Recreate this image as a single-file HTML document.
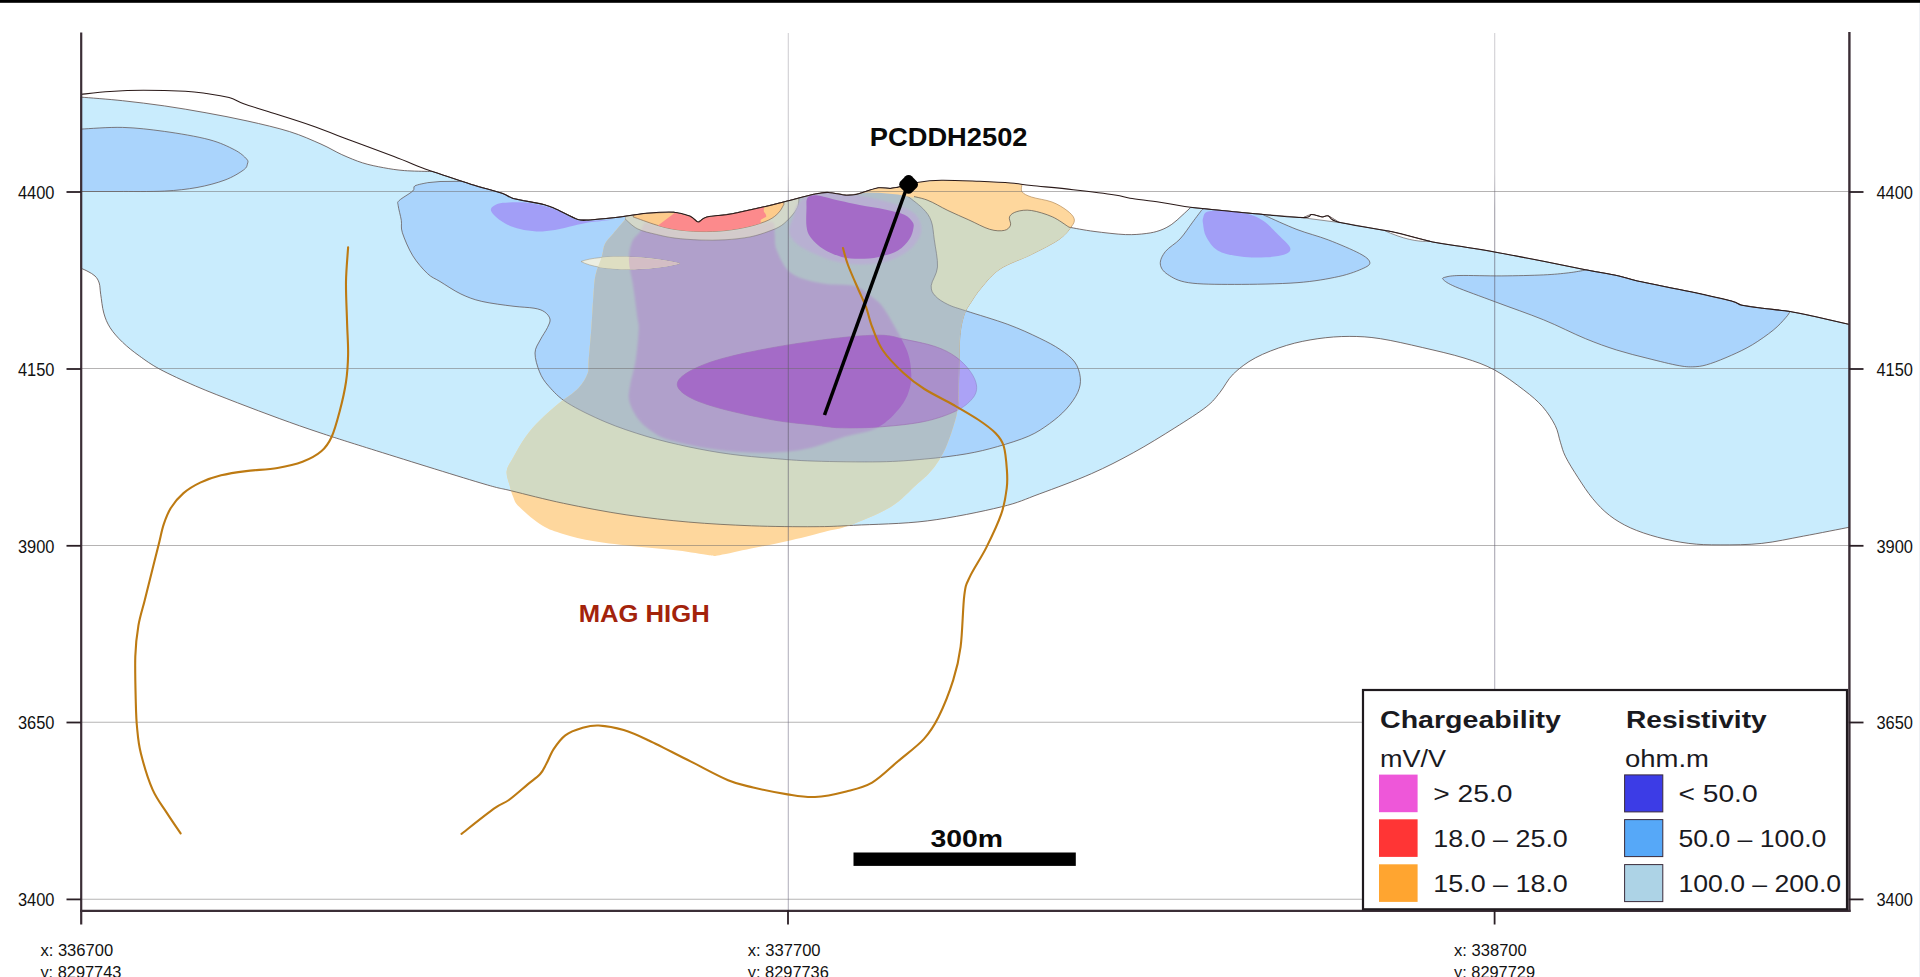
<!DOCTYPE html>
<html><head><meta charset="utf-8"><title>Section</title>
<style>html,body{margin:0;padding:0;background:#fff;overflow:hidden}body{width:1920px;height:977px;font-family:"Liberation Sans",sans-serif}svg{display:block}</style></head>
<body>
<svg width="1920" height="977" viewBox="0 0 1920 977">
<defs>
<path id="LB" d="M81.0,97.1C87.9,97.7 108.7,99.2 122.6,100.7C136.5,102.2 150.5,103.9 164.4,105.9C178.3,107.9 192.2,110.3 206.1,112.8C220.0,115.3 234.0,118.0 247.9,121.1C261.8,124.2 277.4,127.8 289.6,131.6C301.8,135.4 312.3,140.3 321.0,144.1C329.7,147.9 334.9,151.5 341.8,154.6C348.8,157.7 355.7,160.7 362.7,162.9C369.7,165.1 376.6,166.4 383.6,167.7C390.6,169.0 396.9,170.0 404.5,170.6C412.1,171.2 425.3,171.3 429.5,171.5L432.0,171.3L440.0,174.0L471.3,184.4L502.6,193.4L513.0,198.4L544.4,204.7L556.9,209.5L577.8,219.5L590.3,219.9L613.3,217.8L646.7,213.3L673.8,212.2L690.5,216.4L698.2,222.0L706.2,217.2L732.3,213.7L765.7,206.4L784.4,201.8L813.7,194.3L828.3,192.4L846.8,195.2L857.0,194.2L867.2,191.0L878.8,187.8L890.3,188.4L898.0,187.2L900.0,186.8L906,195C909.5,195.8 920.0,197.4 927.0,200.0C934.0,202.6 940.9,207.2 947.9,210.5C954.9,213.8 961.8,216.8 968.8,219.9C975.8,223.0 983.8,227.6 989.7,229.3C995.6,231.1 1000.8,231.1 1004.3,230.4C1007.8,229.7 1009.6,227.5 1010.5,225.2C1011.4,222.9 1008.5,219.1 1009.5,216.8C1010.5,214.5 1013.1,212.7 1016.8,211.6C1020.4,210.5 1025.5,209.6 1031.4,210.5C1037.3,211.4 1046.0,214.0 1052.3,216.8C1058.6,219.6 1066.2,225.5 1069.0,227.2C1073.2,227.9 1084.6,230.2 1094.0,231.4C1103.4,232.6 1116.7,234.2 1125.4,234.6C1134.1,234.9 1140.4,234.2 1146.2,233.5C1152.0,232.8 1155.7,231.9 1160.0,230.4C1164.3,228.9 1168.1,226.8 1171.8,224.3C1175.5,221.8 1178.9,218.3 1182.0,215.5C1185.1,212.7 1189.1,208.9 1190.5,207.6L1192.0,207.5L1192.6,207.6L1255.3,213.8L1303.3,217.6L1311.6,214.5L1322.1,217.0L1328.3,215.9L1338.8,222.2L1391.0,231.6L1432.7,242.0L1460.0,246.3L1494.4,251.9L1543.5,261.3L1585.3,269.7L1618.7,275.9L1637.5,281.1L1689.6,291.6L1731.4,301.0L1741.8,305.2L1762.7,308.3L1789.9,311.4L1814.9,316.6L1849.5,324.4L1849.5,527.2C1841.8,528.7 1818.2,533.4 1803.6,536.1C1789.0,538.8 1775.7,541.9 1761.8,543.4C1747.9,544.9 1732.3,544.9 1720.1,544.9C1707.9,544.9 1699.2,544.7 1688.8,543.4C1678.4,542.1 1667.2,539.8 1657.5,537.2C1647.8,534.6 1638.3,531.4 1630.3,527.8C1622.3,524.1 1615.7,520.2 1609.4,515.3C1603.1,510.4 1597.9,504.9 1592.7,498.6C1587.5,492.3 1582.6,484.7 1578.1,477.7C1573.6,470.7 1568.5,462.7 1565.6,456.8C1562.6,450.9 1562.1,447.4 1560.4,442.2C1558.7,437.0 1558.2,431.4 1555.2,425.5C1552.2,419.6 1547.8,412.6 1542.6,406.7C1537.4,400.8 1531.8,396.1 1523.8,390.0C1515.8,383.9 1504.4,375.2 1494.4,369.9C1484.4,364.6 1476.0,361.7 1464.0,358.0C1452.0,354.3 1436.2,350.7 1422.3,347.5C1408.4,344.3 1392.7,340.6 1380.5,338.7C1368.3,336.8 1359.6,336.4 1349.2,336.4C1338.8,336.4 1328.3,337.2 1317.9,338.7C1307.5,340.2 1297.0,342.2 1286.6,345.4C1276.2,348.6 1264.2,353.1 1255.3,357.9C1246.4,362.7 1239.2,368.3 1233.3,374.0C1227.4,379.7 1224.5,386.8 1220.0,392.3C1215.5,397.8 1213.7,401.0 1206.2,406.9C1198.7,412.8 1187.1,420.1 1174.9,427.8C1162.7,435.5 1147.1,445.2 1133.2,452.8C1119.3,460.4 1107.1,466.8 1091.4,473.7C1075.7,480.6 1054.2,488.5 1039.2,494.0C1024.2,499.5 1019.8,502.4 1001.2,506.9C982.6,511.4 952.0,517.8 927.4,520.9C902.8,524.0 872.6,524.3 853.7,525.3C834.8,526.3 831.0,526.6 814.0,526.7C797.0,526.8 772.3,526.6 751.4,525.8C730.5,525.0 709.7,523.9 688.8,522.1C667.9,520.3 647.0,517.9 626.1,514.8C605.2,511.7 582.6,507.3 563.5,503.3C544.4,499.3 525.2,494.2 511.3,490.8C497.4,487.4 503.3,489.7 480.0,482.8C456.7,475.9 397.9,457.5 371.4,449.2C344.9,440.9 336.4,438.2 321.0,433.1C305.6,428.0 293.1,423.6 279.2,418.5C265.3,413.4 251.4,408.2 237.5,402.8C223.6,397.4 208.6,391.7 195.7,386.1C182.8,380.5 169.6,374.4 160.2,369.4C150.8,364.4 145.6,360.4 139.3,355.9C133.0,351.4 127.5,347.0 122.6,342.3C117.7,337.6 113.2,332.6 110.1,327.7C107.0,322.8 105.4,318.7 103.8,313.1C102.2,307.5 101.5,299.3 100.7,294.3C99.9,289.3 100.2,286.1 99.2,283.0C98.2,279.9 96.9,277.9 95.0,276.0C93.1,274.1 90.3,272.8 88.0,271.5C85.7,270.2 82.2,268.8 81.0,268.2Z"/>
<path id="MBb" d="M427.4,182.7C425.3,183.2 417.3,184.5 414.9,185.9C412.5,187.3 415.4,188.6 412.8,191.0C410.2,193.4 401.6,198.1 399.2,200.5C396.8,202.9 397.8,202.4 398.2,205.7C398.6,209.0 400.6,215.8 401.3,220.3C402.0,224.8 400.5,226.9 402.4,232.8C404.3,238.7 408.6,249.0 412.8,255.8C417.0,262.6 422.9,269.2 427.4,273.5C431.9,277.8 434.4,278.1 440.0,281.5C445.6,284.9 453.9,290.7 460.9,294.0C467.9,297.3 473.1,299.4 481.8,301.4C490.5,303.4 504.3,305.1 513.0,306.2C521.7,307.3 528.8,307.3 534.0,308.2C539.2,309.1 541.7,310.0 544.4,311.8C547.1,313.6 549.5,316.5 550.0,319.1C550.5,321.7 549.1,324.0 547.5,327.5C545.9,331.0 542.3,335.8 540.2,340.0C538.1,344.2 535.1,347.7 535.0,353.0C534.9,358.3 537.2,366.2 539.5,371.8C541.8,377.4 544.2,381.2 548.9,386.4C553.6,391.6 558.3,397.2 567.7,403.1C577.1,409.0 592.1,416.3 605.3,421.9C618.5,427.5 633.1,432.3 647.0,436.5C660.9,440.7 674.9,443.9 688.8,446.9C702.7,449.8 716.6,452.3 730.5,454.2C744.4,456.1 758.4,457.2 772.3,458.4C786.2,459.5 796.0,460.5 814.0,461.1C832.0,461.7 861.6,462.1 880.0,461.8C898.4,461.5 910.0,460.4 924.4,459.1C938.8,457.8 953.9,456.0 966.1,453.9C978.3,451.8 987.0,449.6 997.5,446.6C1008.0,443.6 1020.1,439.9 1028.8,436.1C1037.5,432.3 1043.3,428.1 1049.6,423.6C1055.8,419.1 1061.6,414.2 1066.3,409.0C1071.0,403.8 1075.5,397.5 1077.8,392.3C1080.1,387.1 1080.8,382.8 1080.3,377.7C1079.8,372.6 1078.1,366.7 1074.7,362.0C1071.3,357.3 1066.0,353.5 1060.1,349.5C1054.2,345.5 1047.9,342.2 1039.2,338.0C1030.5,333.8 1020.1,328.9 1007.9,324.4C995.7,319.9 976.1,314.2 966.1,310.9C956.1,307.6 953.0,307.0 947.9,304.5C942.8,302.0 938.2,299.2 935.4,296.1C932.6,293.0 930.9,290.6 931.2,285.7C931.6,280.8 937.0,274.5 937.5,266.9C938.0,259.2 935.3,247.5 934.3,239.8C933.2,232.2 933.1,226.2 931.2,221.0C929.3,215.8 927.0,212.8 922.8,208.5C918.6,204.2 908.8,197.2 906.0,195.0L900.0,186.8L898.0,187.2L890.3,188.4L878.8,187.8L867.2,191.0L857.0,194.2L846.8,195.2L828.3,192.4L813.7,194.3L784.4,201.8L765.7,206.4L732.3,213.7L706.2,217.2L698.2,222.0L690.5,216.4L673.8,212.2L646.7,213.3L613.3,217.8L590.3,219.9L577.8,219.5L556.9,209.5L544.4,204.7L513.0,198.4L502.6,193.4L471.3,184.4L462.0,181.3L440,181.5Z"/>
<path id="OR" d="M1022.0,184.4C1022.0,185.6 1020.4,189.7 1022.0,191.8C1023.6,193.9 1026.4,195.3 1031.4,197.0C1036.4,198.7 1046.1,199.8 1052.0,202.0C1057.9,204.2 1063.3,207.7 1067.0,210.5C1070.7,213.3 1073.5,216.1 1074.2,218.9C1074.9,221.7 1073.6,223.7 1071.0,227.2C1068.4,230.7 1065.1,235.3 1058.5,239.8C1051.9,244.3 1041.2,249.5 1031.4,254.4C1021.7,259.3 1008.4,263.4 1000.0,269.0C991.6,274.6 986.1,282.2 981.3,287.8C976.4,293.4 973.8,297.9 970.9,302.4C968.0,306.9 965.8,309.4 964.0,315.0C962.2,320.6 960.8,326.1 959.9,335.9C959.0,345.6 959.1,361.7 958.8,373.5C958.4,385.3 958.7,398.2 957.8,406.9C956.9,415.6 955.7,418.7 953.6,425.7C951.5,432.7 948.1,442.4 945.3,448.7C942.5,455.0 939.7,459.1 936.9,463.3C934.1,467.5 932.0,470.1 928.6,473.7C925.2,477.3 922.7,479.2 916.4,484.7C910.1,490.2 901.8,500.1 890.6,506.9C879.4,513.7 860.2,521.4 849.1,525.6C838.0,529.8 834.4,529.3 824.0,531.9C813.6,534.5 798.7,538.5 786.5,541.3C774.3,544.1 762.1,546.3 751.0,548.6C739.9,550.9 726.6,554.1 719.6,555.2C712.6,556.3 716.2,556.0 709.2,555.2C702.2,554.4 690.1,552.1 677.9,550.6C665.7,549.1 650.0,548.0 636.1,546.5C622.2,545.0 606.6,543.4 594.4,541.3C582.2,539.2 571.8,536.5 563.1,533.9C554.4,531.3 549.5,530.1 542.2,525.6C534.9,521.1 524.1,511.7 519.2,506.8C514.3,501.9 514.6,499.9 513.0,496.4C511.4,492.9 510.9,490.1 509.8,485.9C508.8,481.7 506.1,476.1 506.7,471.3C507.3,466.5 510.2,463.1 513.4,457.3C516.6,451.5 521.4,442.8 525.9,436.5C530.4,430.2 534.9,425.4 540.5,419.8C546.1,414.2 553.0,408.3 559.3,403.1C565.6,397.9 573.4,393.4 578.1,388.5C582.8,383.6 585.8,378.3 587.5,373.8C589.2,369.3 588.0,369.0 588.6,361.3C589.2,353.6 590.6,338.4 591.4,327.5C592.2,316.6 592.7,304.8 593.4,296.1C594.1,287.4 594.1,281.9 595.5,275.3C596.9,268.7 600.2,261.7 601.8,256.5C603.4,251.3 603.0,247.7 604.9,243.9C606.8,240.1 610.0,237.5 613.3,233.5C616.6,229.5 622.9,222.2 624.8,220.0L626.0,216.1L646.7,213.3L673.8,212.2L690.5,216.4L698.2,222.0L706.2,217.2L732.3,213.7L765.7,206.4L784.4,201.8L813.7,194.3L828.3,192.4L846.8,195.2L857.0,194.2L867.2,191.0L878.8,187.8L890.3,188.4L898.0,187.2L904.0,186.0L918.7,182.2L941.6,180.3L979.2,181.3L1010.5,183.0L1022.0,184.4Z"/>
<path id="PUL" d="M677.3,384.3C677.3,380.1 681.7,376.0 688.8,371.8C695.9,367.6 706.2,363.2 720.1,359.2C734.0,355.2 753.2,351.2 772.3,347.7C791.4,344.2 816.9,340.5 834.9,338.4C852.9,336.3 868.6,335.1 880.0,335.2C891.4,335.3 894.4,337.2 903.5,339.1C912.6,341.0 926.1,343.4 934.8,346.4C943.5,349.3 949.8,352.6 955.7,356.8C961.6,361.0 966.8,366.5 970.3,371.4C973.8,376.3 976.2,381.5 976.6,386.0C977.0,390.5 975.9,394.4 972.4,398.6C968.9,402.8 963.7,407.3 955.7,411.1C947.7,414.9 936.6,418.9 924.4,421.5C912.2,424.1 896.5,425.6 882.6,426.7C868.7,427.8 852.3,428.1 840.9,427.8C829.5,427.5 825.4,426.3 814.0,425.0C802.6,423.7 787.9,422.6 772.3,419.8C756.6,417.0 734.0,412.1 720.1,408.3C706.2,404.5 695.9,400.8 688.8,396.8C681.7,392.8 677.3,388.5 677.3,384.3Z"/>
<path id="MAU" d="M640.4,231.4C638.2,234.6 633.9,237.0 632.0,241.9C630.1,246.8 628.7,253.3 628.9,260.6C629.1,267.9 631.7,276.3 633.1,285.7C634.5,295.1 636.4,309.6 637.3,317.0C638.2,324.4 639.0,322.6 638.7,330.0C638.4,337.4 636.9,352.2 635.5,361.3C634.1,370.4 631.3,377.7 630.3,384.3C629.3,390.9 627.9,395.1 629.3,401.0C630.7,406.9 634.7,414.6 638.7,419.8C642.7,425.0 648.4,429.0 653.3,432.3C658.2,435.6 660.2,437.2 667.9,439.6C675.5,442.0 687.0,444.8 699.2,446.9C711.4,449.0 727.1,451.2 741.0,452.1C754.9,453.0 770.5,453.0 782.7,452.1C794.9,451.2 803.6,449.5 814.0,446.9C824.4,444.3 835.6,439.3 845.3,436.5C855.0,433.7 864.9,432.8 872.2,429.9C879.5,427.0 883.7,423.9 888.9,419.4C894.1,414.9 900.0,407.9 903.5,402.7C907.0,397.5 908.5,393.0 909.8,388.1C911.1,383.2 911.6,379.4 911.2,373.5C910.9,367.6 910.4,360.2 907.7,352.6C905.0,345.0 899.4,335.2 895.2,327.6C891.0,320.0 886.7,311.9 882.6,306.7C878.5,301.4 875.4,299.6 870.6,296.1C865.8,292.6 861.9,287.8 853.9,285.7C845.9,283.6 833.0,285.7 822.6,283.6C812.2,281.5 798.9,278.8 791.3,273.2C783.6,267.6 779.5,256.8 776.7,250.2C773.9,243.6 775.4,238.2 774.6,233.5C773.8,228.8 776.1,223.1 772.0,222.0C767.9,220.9 757.8,225.5 750.0,227.0C742.2,228.5 733.3,230.4 725.0,231.2C716.7,232.0 708.3,232.2 700.0,232.0C691.7,231.8 682.3,231.0 675.0,230.0C667.7,229.0 661.3,227.0 656.3,225.8C651.3,224.6 647.6,222.1 645.0,223.0C642.4,223.9 642.6,228.2 640.4,231.4Z"/>
<path id="CRES" d="M633.1,216.9C637.0,218.2 649.3,222.9 656.3,225.0C663.3,227.1 667.7,228.3 675.0,229.4C682.3,230.5 691.7,231.3 700.0,231.5C708.3,231.7 716.7,231.5 725.0,230.6C733.3,229.7 742.7,228.1 750.0,226.3C757.3,224.5 764.0,222.3 768.8,220.0C773.6,217.7 776.3,215.1 778.8,212.5C781.3,209.9 783.0,205.8 783.8,204.5L783.8,201.9L765.7,206.4L732.3,213.7L706.2,217.2L698.2,222.0L690.5,216.4L673.8,212.2L646.7,213.3L634.0,215.0Z"/>
<clipPath id="cLB"><use href="#LB"/></clipPath>
<clipPath id="cMB"><use href="#MBb"/></clipPath>
<clipPath id="cOR"><use href="#OR"/></clipPath>
<clipPath id="cPUL"><use href="#PUL"/></clipPath>
<clipPath id="cMAU"><use href="#MAU"/></clipPath>
<clipPath id="cCRES"><use href="#CRES"/></clipPath>
<filter id="b1" x="-5%" y="-5%" width="110%" height="110%"><feGaussianBlur stdDeviation="1.2"/></filter>
<linearGradient id="vg" gradientUnits="userSpaceOnUse" x1="0" y1="33" x2="0" y2="910"><stop offset="0" stop-color="#6a6674" stop-opacity="0.3"/><stop offset="0.16" stop-color="#6a6674" stop-opacity="0.36"/><stop offset="0.2" stop-color="#5c586a" stop-opacity="0.56"/><stop offset="0.56" stop-color="#5c586a" stop-opacity="0.56"/><stop offset="0.66" stop-color="#6c6880" stop-opacity="0.5"/><stop offset="1" stop-color="#6c6880" stop-opacity="0.5"/></linearGradient>
</defs>
<rect width="1920" height="977" fill="#fff"/>
<use href="#LB" fill="#c9ecfd" stroke="#5a4a48" stroke-width="0.8"/>
<path d="M81.0,129.1C87.9,128.8 108.7,127.0 122.6,127.4C136.5,127.8 150.0,129.4 164.4,131.4C178.8,133.4 197.3,136.5 209.0,139.6C220.7,142.7 228.2,146.6 234.5,149.8C240.8,153.0 244.4,156.6 246.6,159.0C248.8,161.4 247.9,162.2 247.4,164.0C246.9,165.8 247.2,167.3 243.5,170.0C239.8,172.7 232.8,177.1 225.0,180.0C217.2,182.9 207.1,185.7 197.0,187.5C186.9,189.3 177.2,190.4 164.4,191.1C151.6,191.8 127.4,191.4 120.0,191.5L81,191.5Z" fill="#aad4fc" stroke="#5a4a48" stroke-width="0.7"/>
<path d="M1202.0,209.7C1200.4,211.8 1196.2,217.3 1192.6,222.2C1188.9,227.1 1184.6,234.0 1180.1,238.9C1175.6,243.8 1168.8,247.2 1165.5,251.4C1162.2,255.6 1160.0,260.1 1160.3,263.9C1160.6,267.7 1162.9,271.3 1167.6,274.4C1172.3,277.5 1177.4,281.0 1188.5,282.7C1199.6,284.4 1216.3,284.4 1234.4,284.4C1252.5,284.4 1279.6,284.0 1297.0,282.7C1314.4,281.4 1327.7,278.9 1338.8,276.5C1349.9,274.1 1358.6,270.5 1363.8,268.1C1369.0,265.7 1370.4,264.3 1369.7,261.9C1369.0,259.5 1366.5,257.2 1359.6,253.5C1352.7,249.8 1338.7,243.9 1328.3,239.9C1317.9,235.9 1307.4,233.5 1297.0,229.5C1286.6,225.5 1270.9,218.2 1265.7,215.9L1262.0,214.3L1255.3,213.8L1204.0,208.7Z" fill="#aad4fc" stroke="#5a4a48" stroke-width="0.7"/>
<path d="M1585.3,270.1C1582.5,270.6 1575.6,272.0 1568.6,272.8C1561.6,273.6 1554.6,274.4 1543.5,274.9C1532.4,275.4 1515.7,275.8 1501.8,275.9C1487.9,276.0 1469.3,275.3 1460.0,275.5C1450.7,275.7 1448.8,276.3 1446.0,277.0C1443.2,277.7 1441.6,277.9 1443.2,279.5C1444.8,281.1 1447.0,283.2 1455.7,286.9C1464.4,290.6 1480.8,296.4 1495.4,301.9C1510.0,307.4 1528.5,313.7 1543.5,319.8C1558.5,325.9 1573.1,333.6 1585.3,338.6C1597.5,343.6 1606.2,346.7 1616.6,350.0C1627.0,353.3 1637.5,355.8 1647.9,358.4C1658.3,361.0 1671.2,364.3 1679.2,365.7C1687.2,367.1 1690.7,367.0 1695.9,366.7C1701.1,366.4 1704.6,365.5 1710.5,363.6C1716.4,361.7 1724.4,358.4 1731.4,355.3C1738.4,352.2 1745.3,349.0 1752.3,344.8C1759.3,340.6 1767.6,334.7 1773.2,330.2C1778.8,325.7 1782.9,320.8 1785.7,317.7C1788.5,314.6 1789.2,312.8 1789.9,311.8L1789.0,311.3L1762.7,308.3L1741.8,305.2L1731.4,301.0L1689.6,291.6L1637.5,281.1L1618.7,275.9L1586.0,269.8Z" fill="#aad4fc" stroke="#5a4a48" stroke-width="0.7"/>
<use href="#MBb" fill="#aad4fc" stroke="#5a4a48" stroke-width="0.7"/>
<path d="M491.0,208.8C491.6,206.9 494.9,204.9 497.9,203.8C500.9,202.7 504.0,202.6 508.9,202.4C513.8,202.2 521.4,202.1 527.3,202.7C533.2,203.3 539.5,204.8 544.4,206.0C549.3,207.2 551.3,207.8 556.9,210.2C562.5,212.6 571.4,218.5 577.8,220.2C584.1,221.9 589.1,220.7 595.0,220.6C600.9,220.5 612.2,219.5 613.0,219.6C613.8,219.7 604.1,220.8 600.0,221.3C595.9,221.8 592.5,221.8 588.1,222.5C583.7,223.2 578.9,224.6 573.4,225.8C567.9,227.1 561.1,229.1 555.0,230.0C548.9,230.9 542.3,231.7 536.5,231.5C530.7,231.3 525.2,230.4 520.0,229.1C514.8,227.8 509.5,225.8 505.2,223.5C500.9,221.2 496.6,217.6 494.2,215.2C491.8,212.8 490.4,210.7 491.0,208.8Z" fill="#a29ef7"/>
<path d="M1203.1,218.0C1203.8,215.9 1203.7,213.0 1207.2,211.8C1210.7,210.6 1217.3,210.4 1223.9,210.7C1230.5,211.0 1240.3,212.1 1246.9,213.8C1253.5,215.5 1258.0,217.3 1263.6,221.1C1269.2,224.9 1275.8,232.3 1280.3,236.8C1284.8,241.3 1289.6,245.3 1290.3,248.3C1291.0,251.3 1288.6,253.1 1284.5,254.6C1280.4,256.1 1273.0,257.0 1265.7,257.3C1258.4,257.6 1248.6,257.8 1240.6,256.6C1232.6,255.5 1223.4,253.7 1217.7,250.4C1212.0,247.1 1208.6,241.2 1206.2,236.8C1203.8,232.5 1203.6,227.4 1203.1,224.3C1202.6,221.2 1202.4,220.1 1203.1,218.0Z" fill="#a29ef7"/>
<use href="#PUL" fill="#aba2f6" stroke="#8f86c8" stroke-width="0.6"/>
<use href="#OR" fill="#fed79d"/>
<path d="M1022.0,184.4C1022.0,185.6 1020.4,189.7 1022.0,191.8C1023.6,193.9 1026.4,195.3 1031.4,197.0C1036.4,198.7 1046.1,199.8 1052.0,202.0C1057.9,204.2 1063.3,207.7 1067.0,210.5C1070.7,213.3 1073.5,216.1 1074.2,218.9C1074.9,221.7 1073.6,223.7 1071.0,227.2C1068.4,230.7 1065.1,235.3 1058.5,239.8C1051.9,244.3 1041.2,249.5 1031.4,254.4C1021.7,259.3 1008.4,263.4 1000.0,269.0C991.6,274.6 986.1,282.2 981.3,287.8C976.4,293.4 973.8,297.9 970.9,302.4C968.0,306.9 965.8,309.4 964.0,315.0C962.2,320.6 960.8,326.1 959.9,335.9C959.0,345.6 959.1,361.7 958.8,373.5C958.4,385.3 958.0,401.3 957.8,406.9" fill="none" stroke="#b58c5c" stroke-width="0.7"/>
<g clip-path="url(#cOR)">
<use href="#LB" fill="#d2dac3" stroke="#6b6258" stroke-width="0.8"/>
<use href="#MBb" fill="#b0bfc8" stroke="#7d7f86" stroke-width="0.7"/>
<path d="M858,194L859.0,193.6L867.2,191.0L878.8,187.8L890.3,188.4L898.0,187.2L904.0,186.0L914.0,183.4L914,197.8L898,194.6L878.8,192.8L866,192.6Z" fill="#fed79d"/>
<use href="#MAU" fill="#b0a0cb" filter="url(#b1)"/>
<path d="M625.0,218.8C627.1,220.5 632.3,226.2 637.5,228.8C642.7,231.4 650.0,232.9 656.3,234.4C662.5,235.9 667.7,237.2 675.0,238.1C682.3,239.0 691.7,239.7 700.0,240.0C708.3,240.3 716.7,240.3 725.0,239.8C733.3,239.3 742.7,238.3 750.0,236.9C757.3,235.5 763.6,233.2 768.8,231.3C774.0,229.4 777.5,228.1 781.3,225.6C785.0,223.1 788.6,219.3 791.3,216.3C794.0,213.3 796.2,210.1 797.5,207.5C798.8,204.9 798.6,201.7 798.8,200.5L798.8,198.1L784.4,201.8L765.7,206.4L732.3,213.7L706.2,217.2L698.2,222.0L690.5,216.4L673.8,212.2L646.7,213.3L626.0,216.1Z" fill="#ecebcb" fill-opacity="0.58" stroke="#6f6a60" stroke-width="0.6" stroke-opacity="0.8"/>
<path d="M799.0,203.0C796.5,206.7 794.7,213.2 793.0,218.0C791.3,222.8 788.3,227.7 789.0,232.0C789.7,236.3 792.7,240.3 797.0,244.0C801.3,247.7 808.2,251.0 815.0,254.0C821.8,257.0 830.2,260.2 838.0,262.0C845.8,263.8 853.7,264.7 862.0,264.5C870.3,264.3 880.3,263.2 888.0,261.0C895.7,258.8 902.8,254.8 908.0,251.0C913.2,247.2 916.8,242.2 919.0,238.0C921.2,233.8 921.7,230.0 921.0,226.0C920.3,222.0 918.5,217.3 915.0,214.0C911.5,210.7 905.8,208.3 900.0,206.0C894.2,203.7 887.5,201.8 880.0,200.0C872.5,198.2 863.7,196.2 855.0,195.0C846.3,193.8 835.8,192.3 828.0,192.5C820.2,192.7 812.8,194.2 808.0,196.0C803.2,197.8 801.5,199.3 799.0,203.0Z" fill="#b8b0d2" filter="url(#b1)"/>
<use href="#PUL" fill="#aa90cb" stroke="#9a6fae" stroke-width="0.6"/>
<g clip-path="url(#cMAU)"><use href="#PUL" fill="#a46bc7"/></g>
<path d="M806.8,199.5C806.2,201.3 806.5,202.6 806.5,207.0C806.5,211.4 805.8,221.1 806.5,226.2C807.2,231.3 808.0,233.9 810.9,237.7C813.8,241.5 818.6,246.0 823.7,249.2C828.8,252.4 835.7,255.3 841.7,256.9C847.7,258.5 853.4,258.8 859.6,258.8C865.8,258.8 872.4,258.3 878.8,256.9C885.2,255.5 892.9,253.5 898.0,250.5C903.1,247.5 907.0,242.6 909.5,239.0C912.0,235.4 912.8,231.5 913.3,228.7C913.8,225.9 914.2,224.6 912.7,222.3C911.2,220.0 909.0,216.8 904.4,214.7C899.8,212.6 892.5,211.1 885.0,209.5C877.5,207.9 868.5,206.8 859.6,205.0C850.7,203.2 838.3,200.3 831.4,198.7C824.5,197.1 821.6,195.9 818.0,195.5C814.4,195.1 811.9,195.3 810.0,196.0C808.1,196.7 807.4,197.7 806.8,199.5Z" fill="#a46bc7"/>
<use href="#CRES" fill="#fdcb8b" stroke="#6f5a50" stroke-width="0.6"/>
<g clip-path="url(#cCRES)"><path d="M678.5,210L656,227L700,236L761,226L760.6,220C762,218.5 766.3,217.5 766.3,216.3C766.3,214 764,212.5 763.8,211.3L764,204Z" fill="#fc8a8c"/></g>
</g>
<path d="M581,261.5C600,254 650,256 680,263.5C650,271 600,272 581,261.5Z" fill="#eceee2" stroke="#9a9078" stroke-width="0.5"/>
<g clip-path="url(#cOR)"><path d="M581,261.5C600,254 650,256 680,263.5C650,271 600,272 581,261.5Z" fill="#dedec2"/><g clip-path="url(#cMAU)"><path d="M581,261.5C600,254 650,256 680,263.5C650,271 600,272 581,261.5Z" fill="#d4bec5"/></g></g>
<line x1="82" x2="1849" y1="191.5" y2="191.5" stroke="#6e6a6a" stroke-width="1.1" opacity="0.5"/>
<line x1="82" x2="1849" y1="368.5" y2="368.5" stroke="#6e6a6a" stroke-width="1.1" opacity="0.5"/>
<line x1="82" x2="1849" y1="545.5" y2="545.5" stroke="#6e6a6a" stroke-width="1.1" opacity="0.5"/>
<line x1="82" x2="1849" y1="722.3" y2="722.3" stroke="#6e6a6a" stroke-width="1.1" opacity="0.5"/>
<line x1="82" x2="1849" y1="899.3" y2="899.3" stroke="#6e6a6a" stroke-width="1.1" opacity="0.5"/>
<rect x="787.75" y="33" width="1.1" height="877" fill="url(#vg)"/>
<rect x="1494.15" y="33" width="1.1" height="877" fill="url(#vg)"/>
<path d="M1300,217.4C1300.5,217.4 1301.4,218.1 1303.3,217.6C1305.2,217.1 1308.5,214.6 1311.6,214.5C1314.7,214.4 1319.3,216.8 1322.1,217.0C1324.9,217.2 1325.5,215.0 1328.3,215.9C1331.1,216.8 1336.8,221.1 1338.8,222.2C1340.8,223.3 1339.8,222.4 1340.0,222.4L1340,222.6L1300,217.4Z" fill="#fff" stroke="#5a4a48" stroke-width="0.6"/>
<path d="M1384,230.3C1385.2,230.5 1383.3,229.8 1391.0,231.6C1398.7,233.4 1423.5,239.7 1430.0,241.3C1418,242.2 1402,238.8 1384,230.3Z" fill="#fff" stroke="#5a4a48" stroke-width="0.6"/>
<path d="M81.0,94.4C85.8,93.9 99.6,92.2 110.0,91.5C120.4,90.8 130.9,90.3 143.5,90.3C156.1,90.3 174.9,90.8 185.3,91.3C195.7,91.8 198.8,92.4 206.1,93.4C213.4,94.5 222.8,95.9 229.1,97.6C235.4,99.3 237.1,101.4 243.7,103.8C250.3,106.2 257.7,108.2 268.8,111.8C279.9,115.4 296.6,120.4 310.5,125.3C324.4,130.2 338.4,135.8 352.3,141.0C366.2,146.2 381.5,151.8 394.0,156.6C406.5,161.4 419.7,166.9 427.4,169.8C435.1,172.7 432.7,171.6 440.0,174.0C447.3,176.4 460.9,181.2 471.3,184.4C481.7,187.6 495.7,191.1 502.6,193.4C509.6,195.7 506.0,196.5 513.0,198.4C520.0,200.3 537.1,202.8 544.4,204.7C551.7,206.5 551.3,207.0 556.9,209.5C562.5,212.0 572.2,217.8 577.8,219.5C583.4,221.2 584.4,220.2 590.3,219.9C596.2,219.6 603.9,218.9 613.3,217.8C622.7,216.7 636.6,214.2 646.7,213.3C656.8,212.4 666.5,211.7 673.8,212.2C681.1,212.7 686.4,214.8 690.5,216.4C694.6,218.0 695.6,221.9 698.2,222.0C700.8,222.1 700.5,218.6 706.2,217.2C711.9,215.8 722.4,215.5 732.3,213.7C742.2,211.9 757.0,208.4 765.7,206.4C774.4,204.4 776.4,203.8 784.4,201.8C792.4,199.8 806.4,195.9 813.7,194.3C821.0,192.7 822.8,192.2 828.3,192.4C833.8,192.6 842.0,194.9 846.8,195.2C851.6,195.5 853.6,194.9 857.0,194.2C860.4,193.5 863.6,192.1 867.2,191.0C870.8,189.9 874.9,188.2 878.8,187.8C882.6,187.4 887.1,188.5 890.3,188.4C893.5,188.3 895.7,187.6 898.0,187.2C900.3,186.8 900.5,186.8 904.0,186.0C907.5,185.2 912.4,183.1 918.7,182.2C925.0,181.2 931.5,180.5 941.6,180.3C951.7,180.2 967.7,180.9 979.2,181.3C990.7,181.8 1001.8,182.3 1010.5,183.0C1019.2,183.7 1021.0,184.4 1031.4,185.5C1041.9,186.6 1059.3,188.1 1073.2,189.7C1087.1,191.3 1105.4,193.5 1114.9,194.9C1124.4,196.3 1122.5,197.0 1130.0,198.2C1137.5,199.4 1149.6,200.6 1160.0,202.2C1170.4,203.8 1176.7,205.7 1192.6,207.6C1208.5,209.5 1236.8,212.1 1255.3,213.8C1273.8,215.5 1293.9,217.5 1303.3,217.6C1312.7,217.7 1308.5,214.6 1311.6,214.5C1314.7,214.4 1319.3,216.8 1322.1,217.0C1324.9,217.2 1325.5,215.0 1328.3,215.9C1331.1,216.8 1328.3,219.6 1338.8,222.2C1349.2,224.8 1375.3,228.3 1391.0,231.6C1406.7,234.9 1421.2,239.6 1432.7,242.0C1444.2,244.4 1449.7,244.7 1460.0,246.3C1470.3,248.0 1480.5,249.4 1494.4,251.9C1508.3,254.4 1528.3,258.3 1543.5,261.3C1558.7,264.3 1572.8,267.3 1585.3,269.7C1597.8,272.1 1610.0,274.0 1618.7,275.9C1627.4,277.8 1625.7,278.5 1637.5,281.1C1649.3,283.7 1673.9,288.3 1689.6,291.6C1705.2,294.9 1722.7,298.7 1731.4,301.0C1740.1,303.3 1736.6,304.0 1741.8,305.2C1747.0,306.4 1754.7,307.3 1762.7,308.3C1770.7,309.3 1781.2,310.0 1789.9,311.4C1798.6,312.8 1805.0,314.4 1814.9,316.6C1824.8,318.8 1843.7,323.1 1849.5,324.4" fill="none" stroke="#2b1a19" stroke-width="1.05" stroke-linejoin="round"/>
<path d="M348.1,247.3C347.8,253.1 346.2,269.1 346.0,281.8C345.8,294.5 346.8,311.3 347.1,323.5C347.5,335.7 348.3,345.1 348.1,354.8C347.9,364.6 347.4,372.6 346.0,382.0C344.6,391.4 342.1,402.1 339.7,411.2C337.3,420.3 334.8,430.0 331.7,436.7C328.6,443.4 326.2,447.1 321.3,451.3C316.4,455.5 309.8,459.0 302.5,461.8C295.2,464.6 286.9,466.4 277.5,468.0C268.1,469.6 255.5,469.9 246.1,471.1C236.7,472.3 228.8,473.4 221.1,475.3C213.4,477.2 206.5,479.6 200.2,482.6C193.9,485.6 188.4,488.9 183.5,493.1C178.6,497.3 174.3,502.5 171.0,507.7C167.7,512.9 165.8,518.1 163.7,524.4C161.6,530.7 160.8,536.2 158.5,545.3C156.2,554.3 152.4,569.6 150.1,578.7C147.8,587.8 146.8,592.2 144.8,600.0C142.9,607.8 140.0,616.2 138.4,625.6C136.8,635.0 135.7,643.5 135.3,656.3C134.9,669.1 135.5,690.4 135.8,702.4C136.1,714.4 136.2,719.5 137.1,728.0C137.9,736.5 138.3,743.4 140.9,753.6C143.5,763.8 148.2,779.6 152.5,789.4C156.8,799.2 161.8,805.1 166.5,812.4C171.2,819.7 178.2,829.9 180.6,833.4" fill="none" stroke="#bd7a12" stroke-width="2.1" stroke-linecap="round"/>
<path d="M461.5,833.9C467.0,829.6 486.4,814.0 494.3,808.4C502.2,802.8 503.3,804.0 508.9,800.0C514.5,796.0 522.5,788.7 527.7,784.4C532.9,780.1 537.1,777.5 540.2,774.0C543.3,770.5 544.2,767.7 546.5,763.5C548.8,759.3 550.7,753.6 553.8,748.9C556.9,744.2 560.6,738.8 565.3,735.3C570.0,731.8 576.4,729.6 582.0,728.0C587.6,726.4 591.8,725.1 598.7,725.5C605.7,725.9 615.4,727.6 623.7,730.1C632.1,732.6 637.7,735.3 648.8,740.5C659.9,745.7 677.3,754.8 690.5,761.4C703.7,768.0 717.6,775.9 728.1,780.2C738.6,784.6 743.3,785.1 753.2,787.5C763.1,789.9 777.3,792.8 787.6,794.4C797.9,796.0 805.2,797.5 815.0,797.0C824.8,796.5 836.8,793.8 846.3,791.4C855.8,789.0 863.5,787.6 872.1,782.6C880.7,777.6 889.4,768.5 898.0,761.2C906.6,754.0 917.0,746.5 923.8,739.1C930.5,731.7 933.6,726.8 938.5,717.0C943.4,707.2 949.5,691.8 953.2,680.1C956.9,668.4 958.8,661.0 960.6,646.9C962.5,632.8 962.8,607.0 964.3,595.3C965.8,583.6 966.1,584.9 969.8,576.9C973.5,568.9 981.2,557.8 986.4,547.4C991.6,537.0 997.8,524.0 1001.2,514.2C1004.6,504.4 1005.8,495.8 1006.7,488.4C1007.7,481.0 1007.4,477.1 1006.9,470.0C1006.4,462.9 1005.6,452.2 1003.7,446.0C1001.8,439.8 999.6,437.3 995.4,433.0C991.2,428.7 985.7,424.7 978.7,420.0C971.7,415.3 962.7,410.2 953.6,405.0C944.5,399.8 932.8,394.3 924.4,389.0C916.0,383.7 910.5,379.5 903.5,373.0C896.5,366.5 887.8,357.7 882.6,350.0C877.4,342.3 875.0,334.2 872.2,327.0C869.4,319.8 868.2,312.9 865.9,306.7C863.6,300.5 861.6,296.9 858.6,290.0C855.6,283.1 850.6,272.0 848.0,265.0C845.4,258.0 843.8,250.8 843.0,248.0" fill="none" stroke="#bd7a12" stroke-width="2.1" stroke-linecap="round"/>
<line x1="907" y1="187" x2="824.5" y2="415" stroke="#000" stroke-width="3.5"/>
<rect x="-8" y="-8" width="16" height="16" rx="4.6" transform="translate(908.6,184.4) rotate(45)" fill="#000"/>
<line x1="81.2" x2="81.2" y1="32.5" y2="924.5" stroke="#3b2e36" stroke-width="2.2"/>
<line x1="1849.4" x2="1849.4" y1="32" y2="911.8" stroke="#3b2e36" stroke-width="2.4"/>
<line x1="80" x2="1850.6" y1="910.8" y2="910.8" stroke="#3b2e36" stroke-width="2.2"/>
<line x1="66.5" x2="81" y1="192" y2="192" stroke="#2a1f25" stroke-width="1.8"/>
<line x1="1849" x2="1863.5" y1="192" y2="192" stroke="#2a1f25" stroke-width="1.8"/>
<line x1="66.5" x2="81" y1="369" y2="369" stroke="#2a1f25" stroke-width="1.8"/>
<line x1="1849" x2="1863.5" y1="369" y2="369" stroke="#2a1f25" stroke-width="1.8"/>
<line x1="66.5" x2="81" y1="545.8" y2="545.8" stroke="#2a1f25" stroke-width="1.8"/>
<line x1="1849" x2="1863.5" y1="545.8" y2="545.8" stroke="#2a1f25" stroke-width="1.8"/>
<line x1="66.5" x2="81" y1="722.5" y2="722.5" stroke="#2a1f25" stroke-width="1.8"/>
<line x1="1849" x2="1863.5" y1="722.5" y2="722.5" stroke="#2a1f25" stroke-width="1.8"/>
<line x1="66.5" x2="81" y1="899.4" y2="899.4" stroke="#2a1f25" stroke-width="1.8"/>
<line x1="1849" x2="1863.5" y1="899.4" y2="899.4" stroke="#2a1f25" stroke-width="1.8"/>
<line x1="788" x2="788" y1="910" y2="924.5" stroke="#2a1f25" stroke-width="1.8"/>
<line x1="1494.6" x2="1494.6" y1="910" y2="924.5" stroke="#2a1f25" stroke-width="1.8"/>
<text x="18.0" y="198.8" font-family="Liberation Sans, sans-serif" font-size="17.5" textLength="36.5" lengthAdjust="spacingAndGlyphs" fill="#111">4400</text>
<text x="1876.5" y="198.8" font-family="Liberation Sans, sans-serif" font-size="17.5" textLength="36.5" lengthAdjust="spacingAndGlyphs" fill="#111">4400</text>
<text x="18.0" y="375.8" font-family="Liberation Sans, sans-serif" font-size="17.5" textLength="36.5" lengthAdjust="spacingAndGlyphs" fill="#111">4150</text>
<text x="1876.5" y="375.8" font-family="Liberation Sans, sans-serif" font-size="17.5" textLength="36.5" lengthAdjust="spacingAndGlyphs" fill="#111">4150</text>
<text x="18.0" y="552.6" font-family="Liberation Sans, sans-serif" font-size="17.5" textLength="36.5" lengthAdjust="spacingAndGlyphs" fill="#111">3900</text>
<text x="1876.5" y="552.6" font-family="Liberation Sans, sans-serif" font-size="17.5" textLength="36.5" lengthAdjust="spacingAndGlyphs" fill="#111">3900</text>
<text x="18.0" y="729.3" font-family="Liberation Sans, sans-serif" font-size="17.5" textLength="36.5" lengthAdjust="spacingAndGlyphs" fill="#111">3650</text>
<text x="1876.5" y="729.3" font-family="Liberation Sans, sans-serif" font-size="17.5" textLength="36.5" lengthAdjust="spacingAndGlyphs" fill="#111">3650</text>
<text x="18.0" y="906.2" font-family="Liberation Sans, sans-serif" font-size="17.5" textLength="36.5" lengthAdjust="spacingAndGlyphs" fill="#111">3400</text>
<text x="1876.5" y="906.2" font-family="Liberation Sans, sans-serif" font-size="17.5" textLength="36.5" lengthAdjust="spacingAndGlyphs" fill="#111">3400</text>
<text x="40.4" y="955.6" font-family="Liberation Sans, sans-serif" font-size="16.8" textLength="72.8" lengthAdjust="spacingAndGlyphs" fill="#111">x: 336700</text>
<text x="40.4" y="977.6" font-family="Liberation Sans, sans-serif" font-size="16.8" textLength="81.0" lengthAdjust="spacingAndGlyphs" fill="#111">y: 8297743</text>
<text x="747.8" y="955.6" font-family="Liberation Sans, sans-serif" font-size="16.8" textLength="72.8" lengthAdjust="spacingAndGlyphs" fill="#111">x: 337700</text>
<text x="747.8" y="977.6" font-family="Liberation Sans, sans-serif" font-size="16.8" textLength="81.0" lengthAdjust="spacingAndGlyphs" fill="#111">y: 8297736</text>
<text x="1454.0" y="955.6" font-family="Liberation Sans, sans-serif" font-size="16.8" textLength="72.8" lengthAdjust="spacingAndGlyphs" fill="#111">x: 338700</text>
<text x="1454.0" y="977.6" font-family="Liberation Sans, sans-serif" font-size="16.8" textLength="81.0" lengthAdjust="spacingAndGlyphs" fill="#111">y: 8297729</text>
<text x="869.8" y="146.2" font-family="Liberation Sans, sans-serif" font-weight="bold" font-size="25.8" textLength="157.7" lengthAdjust="spacingAndGlyphs" fill="#0a0a0a">PCDDH2502</text>
<text x="578.7" y="622" font-family="Liberation Sans, sans-serif" font-weight="bold" font-size="23.7" textLength="131.0" lengthAdjust="spacingAndGlyphs" fill="#a3230b">MAG HIGH</text>
<text x="930.4" y="846.8" font-family="Liberation Sans, sans-serif" font-weight="bold" font-size="24.8" textLength="72.6" lengthAdjust="spacingAndGlyphs" fill="#0a0a0a">300m</text>
<rect x="853.5" y="852.5" width="222.3" height="13.4" fill="#000"/>
<rect x="1363" y="690" width="484" height="219.3" fill="#fff" stroke="#1f1a1e" stroke-width="2.2"/>
<text x="1380.0" y="728.4" font-family="Liberation Sans, sans-serif" font-weight="bold" font-size="24.7" textLength="181.0" lengthAdjust="spacingAndGlyphs" fill="#1a1a1f">Chargeability</text>
<text x="1626.0" y="728.4" font-family="Liberation Sans, sans-serif" font-weight="bold" font-size="24.7" textLength="140.7" lengthAdjust="spacingAndGlyphs" fill="#1a1a1f">Resistivity</text>
<text x="1380.0" y="766.5" font-family="Liberation Sans, sans-serif" font-size="23" textLength="66.0" lengthAdjust="spacingAndGlyphs" fill="#1a1a1f">mV/V</text>
<text x="1625.0" y="766.5" font-family="Liberation Sans, sans-serif" font-size="23" textLength="84.0" lengthAdjust="spacingAndGlyphs" fill="#1a1a1f">ohm.m</text>
<rect x="1379" y="774.6" width="38.6" height="37.6" fill="#ee57d9"/>
<rect x="1624.6" y="774.9" width="38.2" height="37" fill="#3c3ce6" stroke="#3a2a3a" stroke-width="1"/>
<text x="1433.3" y="801.7" font-family="Liberation Sans, sans-serif" font-size="24.6" textLength="79.2" lengthAdjust="spacingAndGlyphs" fill="#1a1a1f">&gt; 25.0</text>
<text x="1678.4" y="801.7" font-family="Liberation Sans, sans-serif" font-size="24.6" textLength="79.2" lengthAdjust="spacingAndGlyphs" fill="#1a1a1f">&lt; 50.0</text>
<rect x="1379" y="819.3" width="38.6" height="37.6" fill="#ff3535"/>
<rect x="1624.6" y="819.5999999999999" width="38.2" height="37" fill="#56a8f8" stroke="#3a2a3a" stroke-width="1"/>
<text x="1433.3" y="847.1" font-family="Liberation Sans, sans-serif" font-size="24.6" textLength="134.5" lengthAdjust="spacingAndGlyphs" fill="#1a1a1f">18.0 – 25.0</text>
<text x="1678.4" y="847.1" font-family="Liberation Sans, sans-serif" font-size="24.6" textLength="148.0" lengthAdjust="spacingAndGlyphs" fill="#1a1a1f">50.0 – 100.0</text>
<rect x="1379" y="864.3" width="38.6" height="37.6" fill="#ffa530"/>
<rect x="1624.6" y="864.5999999999999" width="38.2" height="37" fill="#add3e6" stroke="#3a2a3a" stroke-width="1"/>
<text x="1433.3" y="891.9" font-family="Liberation Sans, sans-serif" font-size="24.6" textLength="134.5" lengthAdjust="spacingAndGlyphs" fill="#1a1a1f">15.0 – 18.0</text>
<text x="1678.4" y="891.9" font-family="Liberation Sans, sans-serif" font-size="24.6" textLength="162.7" lengthAdjust="spacingAndGlyphs" fill="#1a1a1f">100.0 – 200.0</text>
<rect x="1919" y="3" width="1" height="974" fill="#eef1f5"/>
<rect x="0" y="0" width="1920" height="2.8" fill="#000"/>
</svg>
</body></html>
